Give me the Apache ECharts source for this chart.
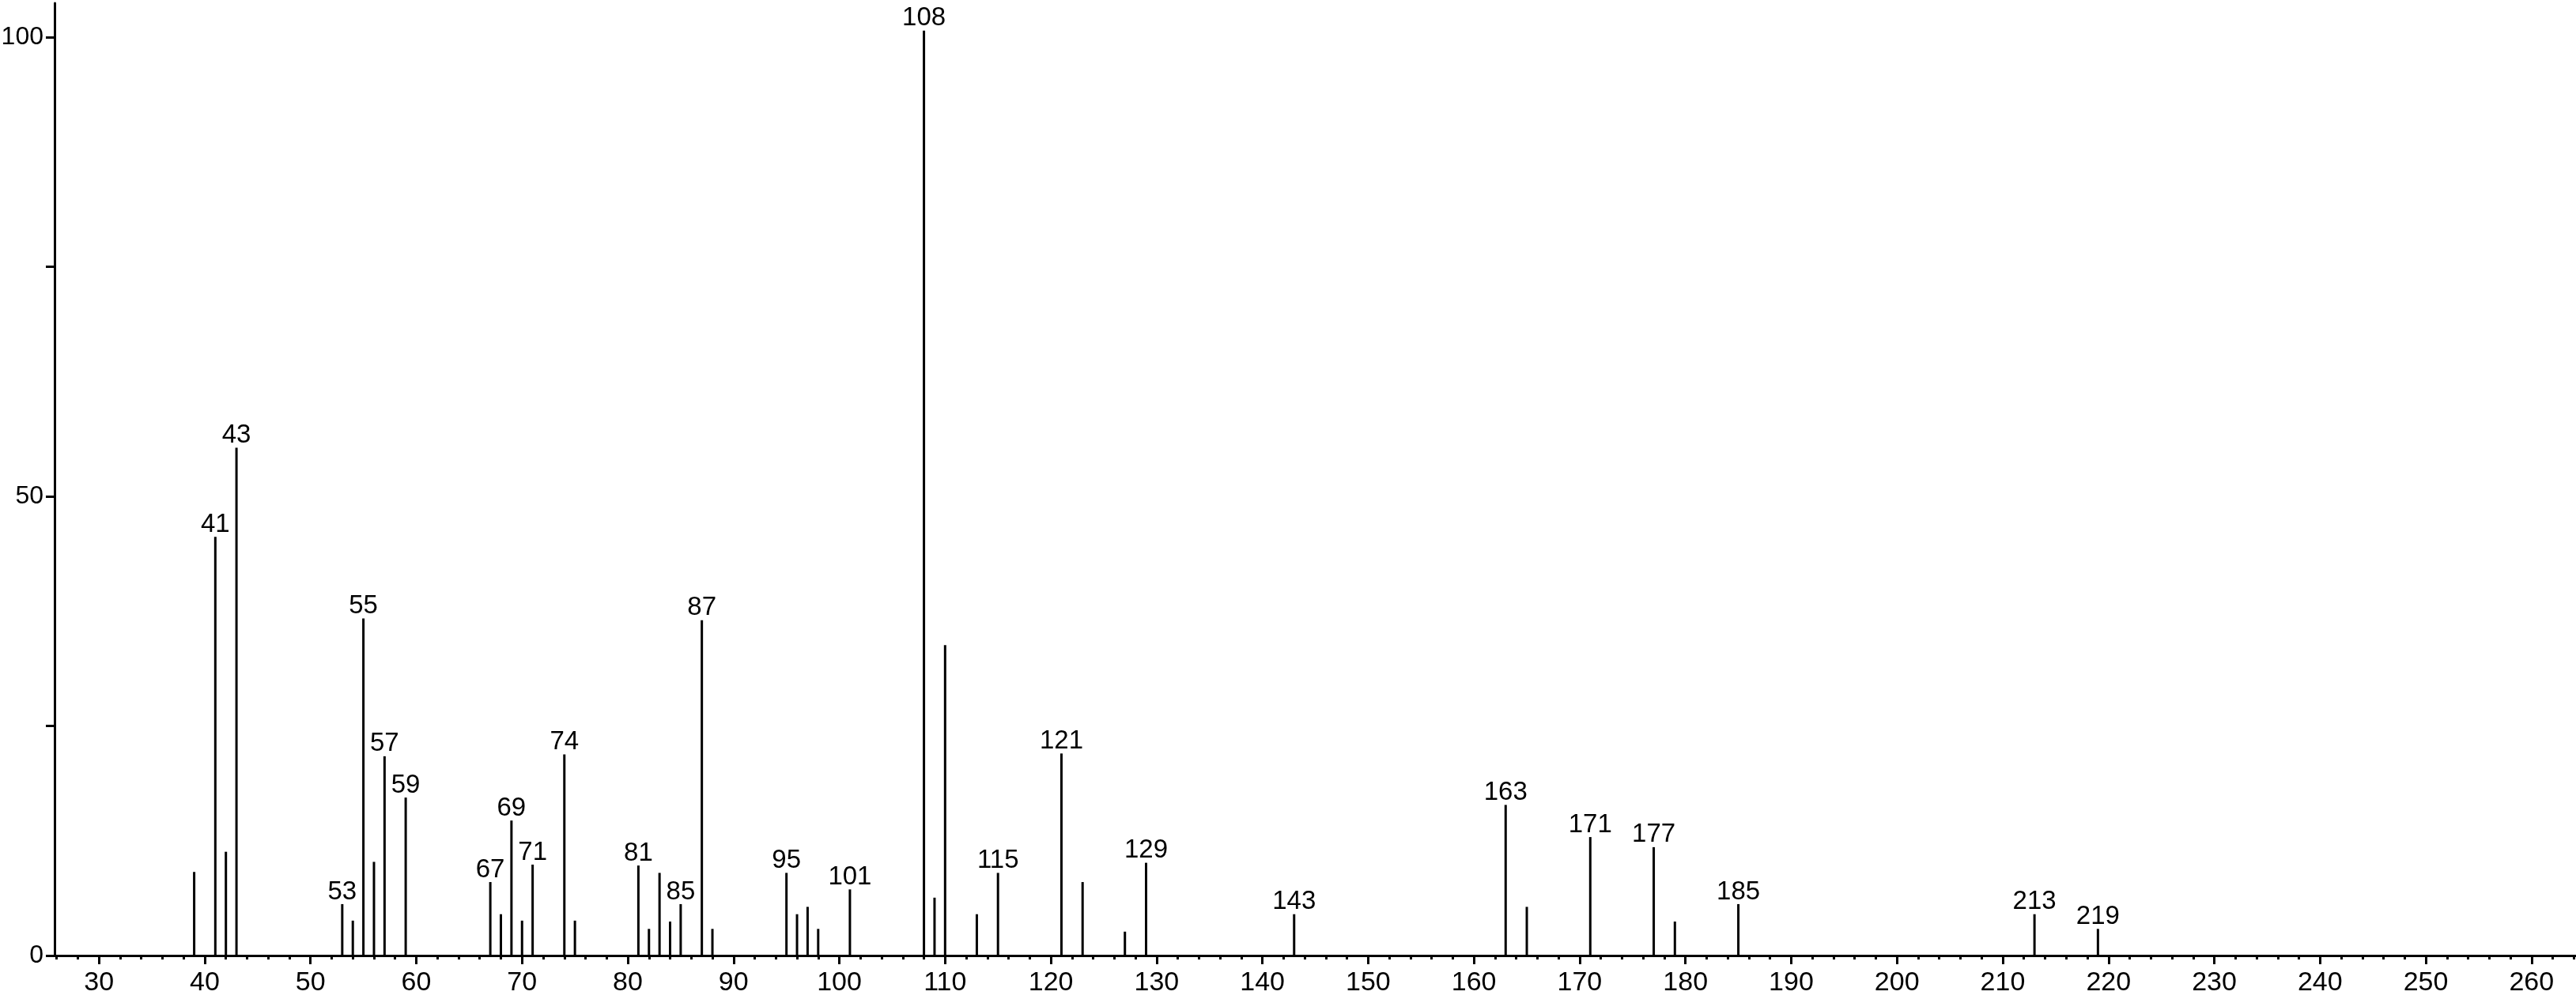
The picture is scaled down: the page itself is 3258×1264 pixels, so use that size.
<!DOCTYPE html>
<html>
<head>
<meta charset="utf-8">
<script src="https://cdn.jsdelivr.net/npm/echarts@6/dist/echarts.min.js"></script>
<style>
  html, body { margin: 0; padding: 0; background: #fff; }
  #chart { width: 3258px; height: 1264px; }
</style>
</head>
<body>
<div id="chart"></div>
<script>
// m/z values of the peaks
const mz = [39, 41, 42, 43, 53, 54, 55, 56, 57, 59, 67, 68, 69, 70, 71, 74, 75,
  81, 82, 83, 84, 85, 87, 88, 95, 96, 97, 98, 101, 108, 109, 110, 113, 115,
  121, 123, 127, 129, 143, 163, 165, 171, 177, 179, 185, 213, 219];
// relative intensities
const intensity = [9.1, 45.6, 11.3, 55.3, 5.6, 3.8, 36.7, 10.2, 21.7, 17.2, 8.0, 4.5, 14.7, 3.8, 9.9, 21.9, 3.8,
  9.8, 2.9, 9.0, 3.7, 5.6, 36.5, 2.9, 9.0, 4.5, 5.3, 2.9, 7.2, 100.7, 6.3, 33.8, 4.5, 9.0,
  22.0, 8.0, 2.6, 10.1, 4.5, 16.4, 5.3, 12.9, 11.8, 3.7, 5.6, 4.5, 2.9];
// peaks that carry a label
const labeledPeaks = [41, 43, 53, 55, 57, 59, 67, 69, 71, 74, 81, 85, 87, 95, 101, 108,
  115, 121, 129, 143, 163, 171, 177, 185, 213, 219];
// axis tick labels
const xTickLabels = [30, 40, 50, 60, 70, 80, 90, 100, 110, 120, 130, 140, 150, 160, 170, 180,
  190, 200, 210, 220, 230, 240, 250, 260];
const yTickLabels = [0, 50, 100];
const yTicks = [0, 25, 50, 75, 100];

const xMin = 25.8, xMax = 264.2;
const minorTicks = [];
for (let v = 26; v <= 264; v += 2) { if (v % 10 !== 0) minorTicks.push(v); }

const FONT = '"Liberation Sans", Arial, sans-serif';

const seriesData = mz.map((m, i) => ({
  value: [m, intensity[i]],
  label: { show: labeledPeaks.includes(m) }
}));

const chart = echarts.init(document.getElementById('chart'), null, { renderer: 'canvas' });
chart.setOption({
  backgroundColor: '#ffffff',
  animation: false,
  grid: { left: 69, right: 0, top: 4, bottom: 55, containLabel: false, outerBoundsMode: 'none' },
  xAxis: [
    {
      type: 'value', min: xMin, max: xMax, position: 'bottom',
      axisLine: { show: true, lineStyle: { color: '#000', width: 3 } },
      axisTick: { show: true, customValues: xTickLabels, length: 11, lineStyle: { color: '#000', width: 3 } },
      axisLabel: { show: true, customValues: xTickLabels, margin: 18, color: '#000', fontSize: 34, fontFamily: FONT },
      splitLine: { show: false }
    },
    {
      type: 'value', min: xMin, max: xMax, position: 'bottom',
      axisLine: { show: false },
      axisTick: { show: true, customValues: minorTicks, length: 5, lineStyle: { color: '#000', width: 3 } },
      axisLabel: { show: false },
      splitLine: { show: false }
    }
  ],
  yAxis: {
    type: 'value', min: 0, max: 103.7,
    axisLine: { show: true, lineStyle: { color: '#000', width: 3 } },
    axisTick: { show: true, customValues: yTicks, length: 11, lineStyle: { color: '#000', width: 3 } },
    axisLabel: { show: true, customValues: yTickLabels, margin: 14, color: '#000', fontSize: 32, fontFamily: FONT },
    splitLine: { show: false }
  },
  series: [{
    type: 'bar',
    xAxisIndex: 0,
    barWidth: 3,
    itemStyle: { color: '#000' },
    label: {
      position: 'top', distance: -1, color: '#000', fontSize: 33, fontFamily: FONT,
      formatter: p => String(p.value[0])
    },
    data: seriesData
  }]
});
</script>
</body>
</html>
